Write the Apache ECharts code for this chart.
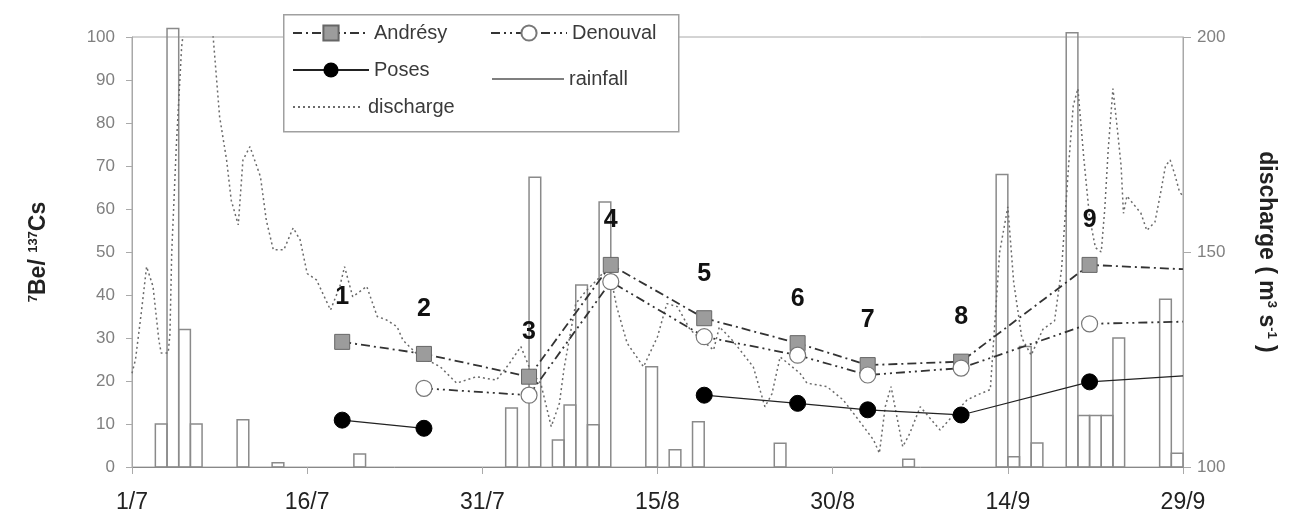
<!DOCTYPE html>
<html>
<head>
<meta charset="utf-8">
<script src="https://cdn.jsdelivr.net/npm/echarts@6/dist/echarts.min.js"></script>
<style>
html,body{margin:0;padding:0;background:#fff;}
#c{width:1296px;height:517px;}
</style>
</head>
<body>
<div id="c"></div>
<script>
// ---- data (x = days since 1/7) ----
const tickLabels = ['1/7','16/7','31/7','15/8','30/8','14/9','29/9'];
const sampleLabels = ['1','2','3','4','5','6','7','8','9'];
const sampleDays = [18, 25, 34, 41, 49, 57, 63, 71, 82, 90];
const andresy  = [29.1, 26.3, 21.0, 47.0, 34.6, 28.8, 23.7, 24.5, 47.0, 46.0];
const denouval = [null, 18.3, 16.7, 43.1, 30.3, 26.0, 21.4, 23.0, 33.3, 33.8];
const poses    = [10.9, 9.0, null, null, 16.7, 14.8, 13.3, 12.1, 19.8, 21.2];

const rainDays   = [2, 3, 4, 5, 9, 12, 19, 32, 34, 36, 37, 38, 39, 40, 44, 46, 48, 55, 66, 74, 75, 76, 77, 80, 81, 82, 83, 84, 88, 89];
const rainValues = [10, 102, 32, 10, 11, 1, 3, 13.7, 67.4, 6.3, 14.4, 42.3, 9.8, 61.6, 23.3, 4, 10.5, 5.5, 1.8, 68, 2.4, 28, 5.6, 101, 12, 12, 12, 30, 39, 3.2];

const dischargeDays = [0,0.3,0.8,1.25,1.8,2.3,2.5,3.1,3.25,3.4,3.8,4.25,5,6.5,7.1,7.5,8.1,8.5,9.1,9.5,10.1,11,11.5,12.1,13,13.8,14.4,15,15.8,17,17.8,18.2,18.9,20.1,21,21.8,22.7,23.2,24.5,26.4,27.8,29.5,31.2,32.3,33.3,34.2,35,35.9,36.6,37,38,38.9,40,40.8,41.5,42.4,43.8,45,45.8,46.7,47.8,49.8,50.3,51.4,53.2,54.2,54.8,55.5,57.2,57.8,59.5,60.9,62.2,63.5,64,64.5,65,66,66.6,67.5,69.2,71.5,72.6,73.5,74.3,75,75.5,76.2,77,78,79,79.6,80.2,80.6,81,81.5,82,82.5,83,83.3,83.6,84,84.4,84.7,84.9,85.2,85.8,86.4,86.9,87.6,88.1,88.5,88.9,89.3,89.7,90];
const dischargeValues = [121.8,125,136,146.6,142,129.5,126.5,126.5,131,149.8,175,197.7,215,215,195,181.5,171.4,162,156.3,171.4,174.5,167.5,157.4,150.5,150.5,155.6,152.8,145,143.5,136.5,142,146.6,139.6,142,135,134.2,132.6,129.5,126,123.3,119.5,121,120.2,124,128,122,119.5,109.4,114.8,123,138,141,144,147,137.3,128.8,123.3,130.3,138,137.3,131.9,127.2,132.6,129.5,123.3,114,117,125.6,121.8,119.5,118.7,115.6,111,106.3,103.2,114,118.7,104.7,107.8,114,108.6,115.6,117,118,150,160.5,143,130,126,132,134,146,170,184,188,172,158,151,150,160,174,188,178,170,159,163,161,159,155,157,164,170,171.4,168,164,163];

// ---- build ----
const FONT = "'Liberation Sans', Arial, sans-serif";
function pairs(xs, ys, lastNoSymbol) {
  return xs.map((x, i) => {
    const item = { value: [x, ys[i]] };
    if (lastNoSymbol && i === xs.length - 1) item.symbol = 'none';
    return item;
  });
}
const rainData = rainDays.map((d, i) => [d, rainValues[i]]);
const dischargeData = dischargeDays.map((d, i) => [d, dischargeValues[i]]);

const chart = echarts.init(document.getElementById('c'), null, { renderer: 'canvas' });

const legendCommon = {
  orient: 'horizontal', padding: 0, itemGap: 0, selectedMode: false,
  itemWidth: 76, itemHeight: 19, z: 10,
  textStyle: { fontFamily: FONT, fontSize: 20, color: '#3a3a3a' }
};

const option = {
  backgroundColor: '#fff',
  animation: false,
  grid: { left: 132, right: 113, top: 37, bottom: 50, show: true, borderColor: '#a8a8a8', borderWidth: 1 },
  graphic: [{
    type: 'rect', left: 283, top: 14, z: 5,
    shape: { width: 395, height: 117 },
    style: { fill: '#fff', stroke: '#a0a0a0', lineWidth: 1.5 }
  }],
  legend: [
    Object.assign({}, legendCommon, { data: ['Andrésy'], left: 292, top: 23 }),
    Object.assign({}, legendCommon, { data: ['Denouval'], left: 490, top: 23 }),
    Object.assign({}, legendCommon, { data: ['Poses'], left: 292, top: 60 }),
    Object.assign({}, legendCommon, { data: [{ name: 'rainfall', icon: 'rect', itemStyle: { color: '#555' } }], left: 492, top: 69, itemWidth: 72, itemHeight: 1.5 }),
    Object.assign({}, legendCommon, { data: [{ name: 'discharge', itemStyle: { opacity: 0 }, lineStyle: { opacity: 1 } }], left: 292, top: 97, itemWidth: 70 })
  ],
  xAxis: {
    type: 'value', min: 0, max: 90, interval: 15,
    axisLine: { show: true, lineStyle: { color: '#888', width: 1 } },
    axisTick: { show: true, length: 7, lineStyle: { color: '#aaa' } },
    splitLine: { show: false },
    axisLabel: {
      margin: 24, fontFamily: FONT, fontSize: 23, color: '#222',
      formatter: v => tickLabels[Math.round(v / 15)]
    }
  },
  yAxis: [{
    type: 'value', min: 0, max: 100, interval: 10, position: 'left',
    axisLine: { show: true, lineStyle: { color: '#a8a8a8' } },
    axisTick: { show: true, length: 6, lineStyle: { color: '#aaa' } },
    splitLine: { show: false },
    axisLabel: { margin: 17, fontFamily: FONT, fontSize: 17, color: '#808080' },
    name: '{sup|7}{m|Be/ }{sup|137}{m|Cs}',
    nameLocation: 'middle', nameRotate: 90, nameGap: 82,
    nameTextStyle: {
      fontFamily: FONT, fontSize: 22, fontWeight: 'bold', color: '#222',
      rich: {
        m: { fontFamily: FONT, fontSize: 23, fontWeight: 'bold', color: '#222' },
        sup: { fontFamily: FONT, fontSize: 13, fontWeight: 'bold', color: '#222', verticalAlign: 'top' }
      }
    }
  }, {
    type: 'value', min: 100, max: 200, interval: 50, position: 'right',
    axisLine: { show: true, lineStyle: { color: '#a8a8a8' } },
    axisTick: { show: true, length: 8, lineStyle: { color: '#aaa' } },
    splitLine: { show: false },
    axisLabel: { margin: 14, fontFamily: FONT, fontSize: 17, color: '#808080' },
    name: '{m|discharge ( m}{sup|3}{m| s}{sup|-1}{m| )}',
    nameLocation: 'middle', nameRotate: -90, nameGap: 72,
    nameTextStyle: {
      fontFamily: FONT, fontSize: 22, fontWeight: 'bold', color: '#222',
      rich: {
        m: { fontFamily: FONT, fontSize: 23, fontWeight: 'bold', color: '#222' },
        sup: { fontFamily: FONT, fontSize: 13, fontWeight: 'bold', color: '#222', verticalAlign: 'top' }
      }
    }
  }],
  series: [
    {
      name: 'rainfall', type: 'custom', yAxisIndex: 0, z: 1,
      itemStyle: { color: '#888' },
      renderItem: function (params, api) {
        const d = api.value(0), v = api.value(1);
        const p0 = api.coord([d, 0]);
        const p1 = api.coord([d + 1, v]);
        return {
          type: 'rect',
          shape: { x: p0[0], y: p1[1], width: p1[0] - p0[0], height: p0[1] - p1[1] },
          style: { fill: 'none', stroke: '#8a8a8a', lineWidth: 1.5 }
        };
      },
      data: rainData
    },
    {
      name: 'discharge', type: 'line', yAxisIndex: 1, z: 2,
      symbol: 'none', smooth: false,
      lineStyle: { color: '#6a6a6a', width: 1.5, type: [2, 3] },
      itemStyle: { color: '#6a6a6a' },
      data: dischargeData
    },
    {
      name: 'Andrésy', type: 'line', yAxisIndex: 0, z: 4,
      symbol: 'rect', symbolSize: 15, connectNulls: false,
      lineStyle: { color: '#333', width: 1.8, type: [9, 4, 2, 4] },
      itemStyle: { color: '#9c9c9c', borderColor: '#666', borderWidth: 1 },
      label: {
        show: true, position: 'top', distance: 24,
        fontFamily: FONT, fontSize: 25, fontWeight: 'bold', color: '#111',
        formatter: p => sampleLabels[p.dataIndex] || ''
      },
      data: pairs(sampleDays, andresy, true)
    },
    {
      name: 'Denouval', type: 'line', yAxisIndex: 0, z: 4,
      symbol: 'circle', symbolSize: 16, connectNulls: false,
      lineStyle: { color: '#333', width: 1.8, type: [9, 4, 2, 4, 2, 4] },
      itemStyle: { color: '#fff', borderColor: '#777', borderWidth: 1.2 },
      data: pairs(sampleDays, denouval, true)
    },
    {
      name: 'Poses', type: 'line', yAxisIndex: 0, z: 5,
      symbol: 'circle', symbolSize: 16, connectNulls: false,
      lineStyle: { color: '#222', width: 1.2 },
      itemStyle: { color: '#000', borderColor: '#000' },
      data: pairs(sampleDays, poses, true)
    }
  ]
};
chart.setOption(option);
</script>
</body>
</html>
